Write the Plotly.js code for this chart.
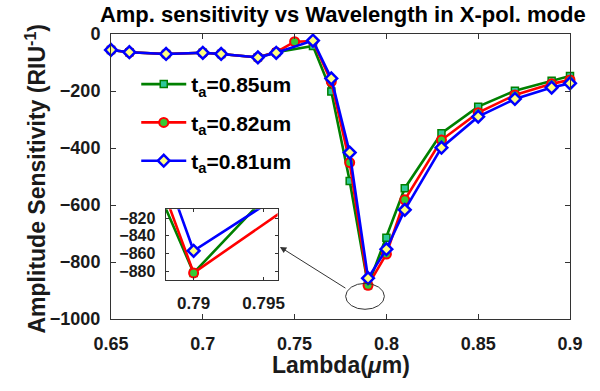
<!DOCTYPE html>
<html>
<head>
<meta charset="utf-8">
<script src="https://cdn.plot.ly/plotly-3.0.1.min.js"></script>
<style>html,body{margin:0;padding:0;background:#fff}#chart{width:600px;height:391px}</style>
</head>
<body>
<div id="chart"></div>
<script>
// Wavelength (um) sample points
const lambdaRed   = [0.65,0.66,0.68,0.70,0.71,0.73,0.74,0.75,0.76,0.77,0.78,0.79,0.80,0.81,0.83,0.85,0.87,0.89,0.90];
const lambdaGreen = [0.65,0.66,0.68,0.70,0.71,0.73,0.74,0.76,0.77,0.78,0.79,0.80,0.81,0.83,0.85,0.87,0.89,0.90];
const lambdaBlue  = [0.65,0.66,0.68,0.70,0.71,0.73,0.74,0.76,0.77,0.78,0.79,0.80,0.81,0.83,0.85,0.87,0.89,0.90];
// Amplitude sensitivity (RIU^-1)
const sens085 = [-56,-64,-70,-66,-70,-82,-64,-42,-202,-516,-882,-715,-541,-348,-255,-199,-164,-147];
const sens082 = [-56,-64,-70,-66,-70,-82,-64,-27,-25,-167,-451,-882,-772,-582,-372,-276,-214,-175,-161];
const sens081 = [-56,-64,-70,-66,-70,-82,-66,-23,-156,-416,-857,-755,-617,-399,-290,-228,-188,-173];
const seriesNames = ['t<sub>a</sub>=0.85um','t<sub>a</sub>=0.82um','t<sub>a</sub>=0.81um'];
const xTicks = [0.65,0.7,0.75,0.8,0.85,0.9];
const xTickText = ['0.65','0.7','0.75','0.8','0.85','0.9'];
const yTicks = [-1000,-800,-600,-400,-200,0];
const insetXTicks = [0.79,0.795];
const insetXTickText = ['0.79','0.795'];
const insetYTicks = [-880,-860,-840,-820];

const FONT = 'Liberation Sans, Arial, sans-serif';
const styles = [
  {line:{color:'#008000',width:2.6}, marker:{symbol:'square',size:7,color:'#2ec89a',line:{color:'#008000',width:1.5}}},
  {line:{color:'#ff0000',width:2.6}, marker:{symbol:'circle',size:9,color:'#33cc33',line:{color:'#ff0000',width:2}}},
  {line:{color:'#0000ff',width:2.6}, marker:{symbol:'diamond',size:9,color:'#ffff80',line:{color:'#0000ff',width:2.5}}}
];
const xs = [lambdaGreen, lambdaRed, lambdaBlue];
const ys = [sens085, sens082, sens081];

const traces = [];
for (let i=0;i<3;i++){
  traces.push({x:xs[i], y:ys[i], type:'scatter', mode:'lines+markers', name:seriesNames[i],
    line:styles[i].line, marker:styles[i].marker, legendgroup:'g'+i, xaxis:'x', yaxis:'y', cliponaxis:false});
}
for (let i=0;i<3;i++){
  traces.push({x:xs[i], y:ys[i], type:'scatter', mode:'lines+markers', showlegend:false,
    line:styles[i].line, marker:styles[i].marker, xaxis:'x2', yaxis:'y2', cliponaxis:true});
}

const axisCommon = {showgrid:false, zeroline:false, showline:true, linecolor:'#333', linewidth:1,
  mirror:'ticks', ticks:'inside', ticklen:5, tickcolor:'#333'};

const layout = {
  width:600, height:391,
  margin:{l:111, r:30, t:34, b:72},
  paper_bgcolor:'#fff', plot_bgcolor:'#fff',
  font:{family:FONT, color:'#1a1a1a', weight:'bold'},
  title:{text:'Amp. sensitivity vs Wavelength in X-pol. mode', font:{family:FONT, size:22, weight:'bold', color:'#000'},
    xref:'paper', x:0.505, xanchor:'center', yref:'container', y:0.963, yanchor:'middle'},
  xaxis:Object.assign({}, axisCommon, {domain:[0,1], range:[0.65,0.9], tickvals:xTicks, ticktext:xTickText,
    tickfont:{size:18, family:FONT, weight:'bold'}, ticklabelstandoff:8}),
  yaxis:Object.assign({}, axisCommon, {domain:[0,1], range:[-1000,0], tickvals:yTicks,
    tickfont:{size:18, family:FONT, weight:'bold'}, ticklabelstandoff:6}),
  xaxis2:Object.assign({}, axisCommon, {domain:[0.119,0.363], range:[0.788,0.796], anchor:'y2', tickvals:insetXTicks,
    ticktext:insetXTickText, tickfont:{size:17, family:FONT, weight:'bold'}, ticklen:3, ticklabelstandoff:8}),
  yaxis2:Object.assign({}, axisCommon, {domain:[0.137,0.385], range:[-890,-810], anchor:'x2', tickvals:insetYTicks,
    tickfont:{size:16, family:FONT, weight:'bold'}, ticklen:3, ticklabelstandoff:6}),
  showlegend:true,
  legend:{x:0.055, y:0.895, xanchor:'left', yanchor:'top', bgcolor:'rgba(0,0,0,0)', borderwidth:0,
    font:{size:21, family:FONT, weight:'bold', color:'#000'}, itemwidth:45, tracegroupgap:8},
  shapes:[
    {type:'circle', xref:'x', yref:'y', x0:0.7778, x1:0.7989, y0:-966, y1:-875, line:{color:'#333', width:1}, layer:'above'}
  ],
  annotations:[
    {xref:'x', yref:'y', axref:'x', ayref:'y', x:0.742, y:-747, ax:0.7785, ay:-895, text:'', showarrow:true,
     arrowhead:2, arrowsize:1.3, arrowwidth:1, arrowcolor:'#333'},
    {xref:'paper', yref:'paper', x:0.5, y:-0.16, xanchor:'center', yanchor:'middle', showarrow:false,
     text:'Lambda(<i>μ</i>m)', font:{size:23, family:FONT, weight:'bold', color:'#1a1a1a'}},
    {xref:'paper', yref:'paper', x:-0.1634, y:0.493, xanchor:'center', yanchor:'middle', showarrow:false, textangle:-90,
     text:'Amplitude Sensitivity (RIU<sup>-1</sup>)', font:{size:23, family:FONT, weight:'bold', color:'#1a1a1a'}}
  ]
};

Plotly.newPlot('chart', traces, layout, {displayModeBar:false, staticPlot:true});
</script>
</body>
</html>
